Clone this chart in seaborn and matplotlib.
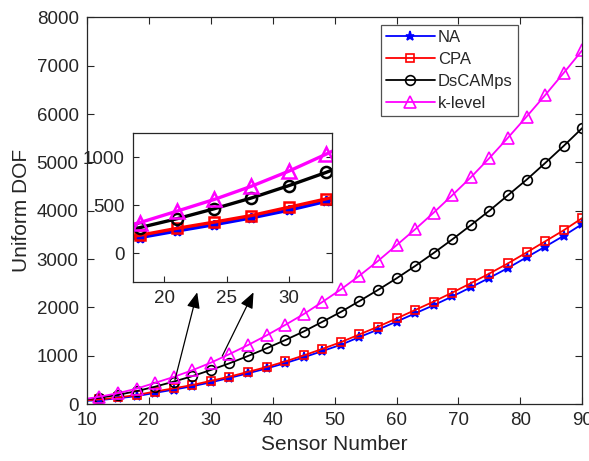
import matplotlib
matplotlib.use("Agg")
import matplotlib.pyplot as plt
import seaborn as sns
import numpy as np

# ---- data ----
sensor_number = [9, 12, 15, 18, 21, 24, 27, 30, 33, 36, 39, 42, 45, 48, 51, 54,
                 57, 60, 63, 66, 69, 72, 75, 78, 81, 84, 87, 90]
na = [60, 80, 120, 162, 231, 297, 368, 448, 540, 635, 735, 845, 965, 1095, 1225,
      1385, 1540, 1705, 1875, 2045, 2225, 2415, 2610, 2815, 3035, 3255, 3480, 3724]
cpa = [70, 95, 135, 186, 259, 324, 393, 479, 566, 665, 765, 880, 1005, 1140, 1280,
       1440, 1600, 1770, 1945, 2120, 2305, 2500, 2700, 2910, 3135, 3365, 3595, 3848]
dscamps = [85, 130, 190, 266, 359, 463, 576, 704, 842, 993, 1153, 1322, 1500, 1700,
           1905, 2130, 2360, 2600, 2855, 3125, 3405, 3700, 4000, 4320, 4640, 4985,
           5340, 5710]
klevel = [90, 150, 225, 318, 438, 560, 698, 855, 1032, 1220, 1420, 1635, 1860, 2110,
          2370, 2655, 2960, 3285, 3615, 3960, 4320, 4690, 5090, 5510, 5945, 6390,
          6850, 7320]
series_names = ["NA", "CPA", "DsCAMps", "k-level"]
x_ticks = [10, 20, 30, 40, 50, 60, 70, 80, 90]
y_ticks = [0, 1000, 2000, 3000, 4000, 5000, 6000, 7000, 8000]
inset_x_ticks = [20, 25, 30]
inset_y_ticks = [0, 500, 1000]

sns.set_style("ticks")
plt.rcParams["font.family"] = ["Liberation Sans", "DejaVu Sans"]
TXT = "#262626"
plt.rcParams.update({
    "axes.edgecolor": TXT, "xtick.color": TXT, "ytick.color": TXT,
    "axes.labelcolor": TXT, "text.color": TXT,
    "xtick.direction": "in", "ytick.direction": "in",
    "xtick.top": True, "ytick.right": True,
    "axes.linewidth": 0.9,
})

styles = [
    dict(color="#0000ff", marker="*", markersize=6.5, markerfacecolor="#0000ff"),
    dict(color="#ff0000", marker="s", markersize=6, markerfacecolor="none"),
    dict(color="#000000", marker="o", markersize=7, markerfacecolor="none"),
    dict(color="#ff00ff", marker="^", markersize=8.5, markerfacecolor="none"),
]
all_vals = [na, cpa, dscamps, klevel]

fig = plt.figure(figsize=(5.89, 4.61), dpi=100)
ax = fig.add_axes([0.1477, 0.1236, 0.8409, 0.8388])

for name, vals, st in zip(series_names, all_vals, styles):
    sns.lineplot(x=sensor_number, y=vals, ax=ax, label=name, linewidth=1.3,
                 markeredgewidth=1.2, markeredgecolor=st["color"], **st)

ax.set_xlim(10, 90)
ax.set_ylim(0, 8000)
ax.set_xticks(x_ticks)
ax.set_yticks(y_ticks)
ax.tick_params(labelsize=13.5, length=5, width=0.8, pad=6)
ax.set_xlabel("Sensor Number", fontsize=15, labelpad=4)
ax.set_ylabel("Uniform DOF", fontsize=15, labelpad=4)

leg = ax.legend(loc="upper right", bbox_to_anchor=(0.8696, 0.980), borderaxespad=0,
                fontsize=12, frameon=True, fancybox=False, edgecolor=TXT,
                handlelength=2.9, handletextpad=0.2, labelspacing=0.42,
                borderpad=0.3, numpoints=1)
leg.get_frame().set_linewidth(0.9)

# arrows from main plot to inset
arrow_kw = dict(arrowstyle="-|>,head_length=0.6,head_width=0.25", color="black",
                lw=0.9, mutation_scale=16, shrinkA=0, shrinkB=0)
ax.annotate("", xy=(27.8, 2311), xytext=(24.2, 496), arrowprops=arrow_kw)
ax.annotate("", xy=(36.9, 2311), xytext=(31.85, 993), arrowprops=arrow_kw)

# inset
axi = fig.add_axes([0.2263, 0.3883, 0.3379, 0.3226])
axi.set_facecolor("white")
for name, vals, st in zip(series_names, all_vals, styles):
    st2 = dict(st)
    st2["markersize"] = st["markersize"] + 1
    sns.lineplot(x=sensor_number, y=vals, ax=axi, linewidth=2.4,
                 markeredgewidth=1.8, markeredgecolor=st["color"], **st2)
axi.set_xlim(17.5, 33.5)
axi.set_ylim(-300, 1250)
axi.set_xticks(inset_x_ticks)
axi.set_yticks(inset_y_ticks)
axi.tick_params(labelsize=13.5, length=4, width=0.8, pad=6)
axi.tick_params(axis="x", top=False)
axi.set_xlabel("")
axi.set_ylabel("")
if axi.get_legend() is not None:
    axi.get_legend().remove()

fig.savefig("out.png", dpi=100)
